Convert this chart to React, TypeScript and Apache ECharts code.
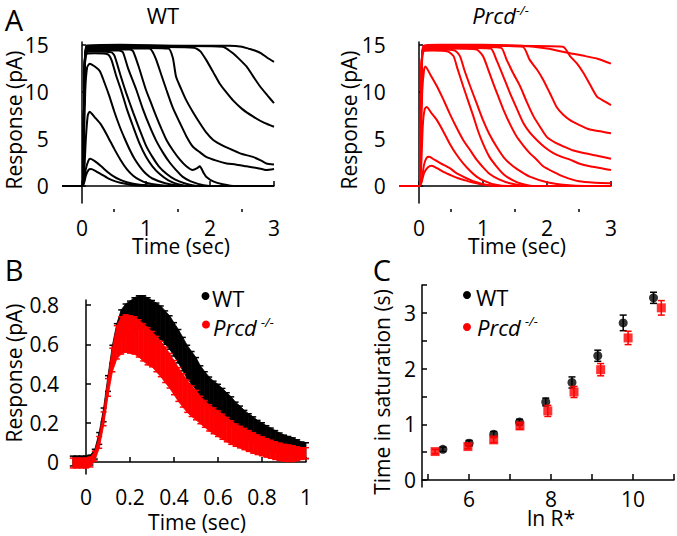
import React, { useEffect, useRef } from "react";
import * as echarts from "echarts";

const FONT = "'Open Sans', 'Noto Sans', sans-serif";
const RED = "#ff0000";
const BLACK = "#000000";

// ---------- Panel A : tick values ----------
const A_X_TICKS = [0, 1, 2, 3];
const A_X_MINOR = [0.5, 1.5, 2.5];
const A_Y_TICKS = [0, 5, 10, 15];

// ---------- Panel A : WT traces [time (s), response (pA)] ----------
const wtDim1 = [[-0.3, 0], [0, 0], [0.03, 0.3], [0.06, 1.1], [0.1, 1.7], [0.14, 1.8], [0.2, 1.65], [0.3, 1.25], [0.4, 0.85], [0.5, 0.55], [0.6, 0.35], [0.75, 0.15], [0.9, 0.05], [1.1, 0], [3, 0]];
const wtDim2 = [[-0.3, 0], [0, 0], [0.03, 0.4], [0.06, 1.8], [0.1, 2.7], [0.13, 2.9], [0.2, 2.65], [0.3, 2.1], [0.4, 1.5], [0.5, 1.0], [0.6, 0.65], [0.7, 0.4], [0.8, 0.25], [1.0, 0.08], [1.2, 0], [3, 0]];
const wtMid1 = [[-0.3, 0], [0, 0], [0.03, 1], [0.06, 5], [0.09, 7.5], [0.12, 7.9], [0.2, 7.3], [0.3, 6.5], [0.4, 5.3], [0.5, 4.0], [0.6, 2.8], [0.7, 1.8], [0.8, 1.1], [0.9, 0.65], [1.0, 0.35], [1.2, 0.1], [1.4, 0], [3, 0]];
const wtMid2 = [[-0.3, 0], [0, 0], [0.02, 2], [0.05, 10], [0.08, 12.6], [0.12, 13], [0.2, 12.7], [0.28, 12.2], [0.35, 11], [0.43, 9.5], [0.5, 8], [0.59, 6.3], [0.67, 5], [0.75, 3.8], [0.82, 2.9], [0.9, 2.1], [1.0, 1.3], [1.1, 0.8], [1.3, 0.3], [1.6, 0], [3, 0]];
const wtSat1 = [[-0.3, 0], [0, 0], [0.02, 3], [0.04, 12], [0.07, 14.0], [0.2, 14.1], [0.4, 14.0], [0.46, 13.4], [0.53, 11.8], [0.61, 10.2], [0.7, 8.2], [0.8, 6.3], [0.9, 4.5], [1.0, 3.1], [1.1, 2.1], [1.21, 1.3], [1.35, 0.6], [1.5, 0.2], [1.7, 0], [3, 0]];
const wtSat2 = [[-0.3, 0], [0, 0], [0.02, 3], [0.04, 12], [0.07, 14.2], [0.2, 14.3], [0.46, 14.2], [0.51, 13.8], [0.6, 11.8], [0.69, 9.9], [0.8, 7.8], [0.9, 6], [1.0, 4.3], [1.1, 3.1], [1.2, 2.1], [1.32, 1.3], [1.45, 0.7], [1.6, 0.3], [1.8, 0], [3, 0]];
const wtSat3 = [[-0.3, 0], [0, 0], [0.02, 3], [0.04, 12], [0.07, 14.3], [0.3, 14.4], [0.58, 14.4], [0.64, 14.2], [0.72, 12.5], [0.85, 10.2], [0.95, 8.2], [1.06, 6.3], [1.16, 4.8], [1.27, 3.5], [1.37, 2.5], [1.47, 1.7], [1.57, 1.0], [1.7, 0.5], [1.9, 0.1], [2.1, 0], [3, 0]];
const wtSat4 = [[-0.3, 0], [0, 0], [0.02, 3], [0.04, 12], [0.07, 14.4], [0.4, 14.5], [0.75, 14.5], [0.8, 14.3], [0.88, 12.8], [1.0, 10.2], [1.08, 8.8], [1.16, 7.4], [1.24, 6.1], [1.32, 4.9], [1.42, 3.8], [1.53, 2.8], [1.63, 2.1], [1.73, 1.7], [1.8, 1.9], [1.84, 2.1], [1.9, 1.4], [1.94, 1.0], [2.05, 0.5], [2.2, 0.2], [2.4, 0], [3, 0]];
const wtSat5 = [[-0.3, 0], [0, 0], [0.02, 3], [0.04, 12], [0.07, 14.5], [0.5, 14.6], [1.05, 14.6], [1.1, 14.3], [1.16, 13.4], [1.24, 11.8], [1.32, 10.2], [1.42, 8.3], [1.53, 6.7], [1.63, 5.3], [1.73, 4.2], [1.84, 3.6], [1.94, 3.1], [2.1, 2.7], [2.26, 2.4], [2.4, 2.3], [2.57, 2.1], [2.75, 1.9], [2.88, 1.7], [3, 1.8]];
const wtSat6 = [[-0.3, 0], [0, 0], [0.02, 3], [0.04, 12], [0.07, 14.6], [0.6, 14.7], [1.35, 14.6], [1.42, 13.6], [1.47, 11.6], [1.55, 10.3], [1.63, 9.1], [1.73, 7.9], [1.84, 6.7], [1.94, 5.7], [2.05, 4.9], [2.2, 4.3], [2.36, 3.8], [2.5, 3.4], [2.67, 3.1], [2.8, 2.7], [2.88, 2.4], [3, 2.3]];
const wtSat7 = [[-0.3, 0], [0, 0], [0.02, 3], [0.04, 12], [0.07, 14.7], [0.8, 14.8], [1.75, 14.7], [1.85, 14.3], [1.94, 13.4], [2.05, 12.1], [2.15, 10.9], [2.25, 10], [2.36, 9.1], [2.5, 8.2], [2.67, 7.4], [2.85, 6.7], [3, 6.3]];
const wtSat8 = [[-0.3, 0], [0, 0], [0.02, 3], [0.04, 12], [0.07, 14.8], [1.0, 14.9], [2.2, 14.8], [2.3, 14.4], [2.36, 14.1], [2.47, 13.4], [2.57, 12.7], [2.67, 11.7], [2.78, 10.6], [2.9, 9.6], [3, 8.8]];
const wtSat9 = [[-0.3, 0], [0, 0], [0.02, 3], [0.04, 12], [0.07, 14.9], [0.6, 15.0], [1.5, 14.9], [2.3, 14.9], [2.5, 14.8], [2.6, 14.6], [2.7, 14.4], [2.8, 14.1], [2.9, 13.6], [3, 13.2]];
const wtTraces = [wtDim1, wtDim2, wtMid1, wtMid2, wtSat1, wtSat2, wtSat3, wtSat4, wtSat5, wtSat6, wtSat7, wtSat8, wtSat9];

// ---------- Panel A : Prcd-/- traces ----------
const koDim1 = [[-0.3, 0], [0, 0], [0.04, 0.4], [0.08, 1.4], [0.14, 2.0], [0.2, 2.15], [0.28, 1.9], [0.38, 1.5], [0.48, 1.2], [0.6, 0.85], [0.7, 0.65], [0.8, 0.45], [0.9, 0.3], [1.06, 0.1], [1.3, 0], [3, 0]];
const koDim2 = [[-0.3, 0], [0, 0], [0.04, 0.6], [0.08, 2.3], [0.12, 3.0], [0.16, 3.1], [0.24, 2.8], [0.34, 2.4], [0.48, 1.9], [0.58, 1.4], [0.69, 1.0], [0.8, 0.65], [0.9, 0.4], [1.0, 0.2], [1.2, 0], [3, 0]];
const koMid1 = [[-0.3, 0], [0, 0], [0.03, 1.5], [0.06, 6.5], [0.09, 8.2], [0.12, 8.4], [0.2, 7.7], [0.28, 7.0], [0.38, 5.8], [0.48, 4.5], [0.58, 3.4], [0.69, 2.4], [0.8, 1.6], [0.9, 1.0], [1.0, 0.6], [1.16, 0.2], [1.4, 0], [3, 0]];
const koMid2 = [[-0.3, 0], [0, 0], [0.02, 2], [0.05, 10], [0.08, 12.4], [0.1, 12.7], [0.18, 11.8], [0.28, 10.6], [0.38, 9.2], [0.48, 7.7], [0.58, 6.3], [0.69, 4.9], [0.8, 3.8], [0.9, 2.8], [1.0, 2.0], [1.1, 1.3], [1.25, 0.7], [1.42, 0.3], [1.7, 0], [3, 0]];
const koSat1 = [[-0.3, 0], [0, 0], [0.02, 3], [0.04, 12], [0.07, 14.3], [0.2, 14.4], [0.45, 14.3], [0.54, 13.8], [0.6, 12.5], [0.69, 10.6], [0.77, 9], [0.85, 7.4], [0.92, 5.9], [1.0, 4.5], [1.1, 3.1], [1.21, 2.1], [1.33, 1.2], [1.47, 0.6], [1.6, 0.25], [1.8, 0], [3, 0]];
const koSat2 = [[-0.3, 0], [0, 0], [0.02, 3], [0.04, 12], [0.07, 14.4], [0.3, 14.5], [0.56, 14.4], [0.64, 13.8], [0.71, 12.3], [0.8, 10.6], [0.9, 8.8], [1.0, 7.0], [1.1, 5.5], [1.21, 4.2], [1.33, 3.0], [1.47, 2.1], [1.6, 1.5], [1.73, 1.0], [2.0, 0.4], [2.3, 0.1], [2.6, 0], [3, 0]];
const koSat3 = [[-0.3, 0], [0, 0], [0.02, 3], [0.04, 12], [0.07, 14.5], [0.5, 14.6], [0.9, 14.5], [1.0, 13.8], [1.08, 12.4], [1.16, 10.9], [1.24, 9.5], [1.32, 8.1], [1.42, 6.6], [1.53, 5.2], [1.63, 4.3], [1.73, 3.5], [1.84, 2.8], [1.94, 2.1], [2.1, 1.5], [2.26, 1.0], [2.5, 0.5], [2.75, 0.35], [3, 0.3]];
const koSat4 = [[-0.3, 0], [0, 0], [0.02, 3], [0.04, 12], [0.07, 14.6], [0.6, 14.7], [1.12, 14.6], [1.21, 13.4], [1.32, 11.6], [1.42, 9.9], [1.53, 8.2], [1.63, 6.7], [1.73, 5.7], [1.84, 4.9], [1.97, 4.1], [2.1, 3.5], [2.23, 3.1], [2.36, 2.8], [2.5, 2.4], [2.67, 2.1], [2.85, 1.9], [3, 1.7]];
const koSat5 = [[-0.3, 0], [0, 0], [0.02, 3], [0.04, 12], [0.07, 14.7], [0.7, 14.8], [1.28, 14.7], [1.37, 13.4], [1.47, 12.0], [1.58, 10.6], [1.68, 9.0], [1.79, 7.4], [1.9, 6.2], [2.0, 5.2], [2.13, 4.6], [2.26, 4.2], [2.4, 3.8], [2.57, 3.5], [2.8, 3.2], [3, 2.9]];
const koSat6 = [[-0.3, 0], [0, 0], [0.02, 3], [0.04, 12], [0.07, 14.8], [0.9, 14.9], [1.62, 14.8], [1.73, 13.4], [1.84, 12.4], [1.94, 11.3], [2.05, 9.8], [2.15, 8.4], [2.25, 7.6], [2.36, 7.0], [2.5, 6.5], [2.67, 6.0], [2.85, 5.8], [3, 5.6]];
const koSat7 = [[-0.3, 0], [0, 0], [0.02, 3], [0.04, 12], [0.07, 14.8], [1.2, 14.9], [2.25, 14.8], [2.36, 13.8], [2.47, 13.0], [2.57, 12.0], [2.67, 10.8], [2.78, 9.5], [2.9, 9.0], [3, 8.6]];
const koSat8 = [[-0.3, 0], [0, 0], [0.02, 3], [0.04, 12], [0.07, 14.9], [0.3, 15.0], [1.0, 15.0], [1.6, 14.9], [2.0, 14.6], [2.36, 14.1], [2.6, 13.8], [2.8, 13.5], [3, 13.0]];
const koTraces = [koDim1, koDim2, koMid1, koMid2, koSat1, koSat2, koSat3, koSat4, koSat5, koSat6, koSat7, koSat8];

// ---------- Panel B : mean +/- SEM ----------
const B_X_TICKS = [0, 0.2, 0.4, 0.6, 0.8, 1];
const B_Y_TICKS = [0, 0.2, 0.4, 0.6, 0.8];
const bTime = [-0.06, -0.04, -0.02, 0, 0.02, 0.04, 0.06, 0.08, 0.1, 0.12, 0.14, 0.16, 0.18, 0.2, 0.22, 0.24, 0.26, 0.28, 0.3, 0.32, 0.34, 0.36, 0.38, 0.4, 0.42, 0.44, 0.46, 0.48, 0.5, 0.52, 0.54, 0.56, 0.58, 0.6, 0.62, 0.64, 0.66, 0.68, 0.7, 0.72, 0.74, 0.76, 0.78, 0.8, 0.82, 0.84, 0.86, 0.88, 0.9, 0.92, 0.94, 0.96, 0.98, 1.0];
const bWtMean = [0.005, 0.005, 0.005, 0.005, 0.01, 0.04, 0.12, 0.24, 0.4, 0.55, 0.645, 0.7, 0.725, 0.74, 0.755, 0.765, 0.765, 0.755, 0.74, 0.725, 0.71, 0.685, 0.66, 0.625, 0.59, 0.55, 0.51, 0.48, 0.45, 0.41, 0.38, 0.355, 0.335, 0.32, 0.3, 0.28, 0.26, 0.235, 0.215, 0.195, 0.18, 0.165, 0.15, 0.14, 0.125, 0.115, 0.105, 0.095, 0.087, 0.08, 0.078, 0.07, 0.062, 0.058];
const bWtSem = [0.025, 0.025, 0.025, 0.025, 0.025, 0.025, 0.03, 0.035, 0.04, 0.045, 0.06, 0.075, 0.08, 0.08, 0.082, 0.082, 0.082, 0.082, 0.083, 0.085, 0.085, 0.085, 0.085, 0.085, 0.085, 0.085, 0.085, 0.083, 0.082, 0.08, 0.08, 0.078, 0.077, 0.076, 0.075, 0.073, 0.072, 0.07, 0.07, 0.068, 0.066, 0.065, 0.062, 0.06, 0.06, 0.058, 0.055, 0.053, 0.05, 0.05, 0.045, 0.043, 0.04, 0.04];
const bKoMean = [-0.005, -0.005, -0.005, -0.005, 0, 0.03, 0.1, 0.22, 0.38, 0.52, 0.61, 0.645, 0.655, 0.65, 0.645, 0.63, 0.61, 0.59, 0.575, 0.55, 0.525, 0.495, 0.465, 0.43, 0.395, 0.365, 0.335, 0.31, 0.29, 0.265, 0.245, 0.225, 0.21, 0.195, 0.18, 0.165, 0.15, 0.137, 0.127, 0.117, 0.107, 0.097, 0.088, 0.08, 0.072, 0.065, 0.058, 0.052, 0.047, 0.045, 0.043, 0.042, 0.043, 0.045];
const bKoSem = [0.025, 0.025, 0.025, 0.025, 0.025, 0.025, 0.03, 0.035, 0.045, 0.06, 0.085, 0.095, 0.095, 0.095, 0.095, 0.095, 0.095, 0.095, 0.09, 0.09, 0.09, 0.09, 0.088, 0.087, 0.086, 0.085, 0.082, 0.078, 0.075, 0.07, 0.068, 0.067, 0.066, 0.065, 0.064, 0.062, 0.06, 0.057, 0.055, 0.054, 0.053, 0.052, 0.05, 0.048, 0.047, 0.046, 0.045, 0.044, 0.043, 0.042, 0.04, 0.035, 0.03, 0.028];

// ---------- Panel C : time in saturation vs ln R* ----------
const C_X_TICKS = [5, 6, 7, 8, 9, 10, 11];
const C_X_LABELS = [6, 8, 10];
const C_Y_TICKS = [0, 0.5, 1, 1.5, 2, 2.5, 3, 3.5];
const C_Y_LABELS = [0, 1, 2, 3];
const cWtX = [5.36, 6.0, 6.6, 7.23, 7.87, 8.51, 9.14, 9.76, 10.5];
const cWtY = [0.55, 0.66, 0.82, 1.04, 1.4, 1.75, 2.23, 2.82, 3.27];
const cWtErr = [0.04, 0.05, 0.05, 0.05, 0.07, 0.1, 0.1, 0.14, 0.1];
const cKoX = [5.17, 5.97, 6.6, 7.24, 7.92, 8.56, 9.21, 9.88, 10.69];
const cKoY = [0.51, 0.6, 0.72, 0.97, 1.24, 1.58, 1.98, 2.55, 3.09];
const cKoErr = [0.04, 0.04, 0.05, 0.06, 0.1, 0.1, 0.11, 0.12, 0.13];

const FS = 21;
const axisLineStyle = { show: true, lineStyle: { color: BLACK, width: 1.5 } };
const labelBase = { color: BLACK, fontSize: FS, fontFamily: FONT };

function xAxisDef(grid: number, min: number, max: number, ticks: number[], labels: number[] | null, offset: number, tickLen: number, margin: number, showLine = true) {
  return {
    type: "value", gridIndex: grid, min, max, position: "bottom", offset,
    axisLine: showLine ? axisLineStyle : { show: false },
    axisTick: { show: true, inside: true, length: tickLen, customValues: ticks, lineStyle: { color: BLACK, width: 1.5 } },
    axisLabel: labels ? { ...labelBase, show: true, margin, customValues: labels } : { show: false },
    splitLine: { show: false },
  };
}
function yAxisDef(grid: number, min: number, max: number, ticks: number[], labels: number[], offset: number, tickLen: number, margin: number) {
  return {
    type: "value", gridIndex: grid, min, max, position: "left", offset,
    axisLine: axisLineStyle,
    axisTick: { show: true, inside: true, length: tickLen, customValues: ticks, lineStyle: { color: BLACK, width: 1.5 } },
    axisLabel: { ...labelBase, show: true, margin, customValues: labels },
    splitLine: { show: false },
  };
}

function txt(text: string, x: number, y: number, size: number, opts: any = {}) {
  return {
    type: "text", x, y, rotation: opts.rotation || 0, silent: true, z: 100,
    style: {
      text, fontSize: size, fontFamily: FONT, fill: opts.fill || BLACK,
      fontStyle: opts.italic ? "italic" : "normal",
      align: opts.align || "center", verticalAlign: "middle",
      textAlign: opts.align || "center", textVerticalAlign: "middle",
    },
  };
}

function bandSeries(mean: number[], sem: number[], color: string, z: number) {
  return {
    type: "custom", xAxisIndex: 4, yAxisIndex: 2, z, silent: true, clip: false,
    data: bTime.map((t, i) => [t, mean[i] - sem[i], mean[i] + sem[i]]),
    renderItem: (params: any, api: any) => {
      const i = params.dataIndex;
      const t0 = bTime[i];
      const lo = api.coord([t0, mean[i] - sem[i]]);
      const hi = api.coord([t0, mean[i] + sem[i]]);
      const children: any[] = [];
      if (i < bTime.length - 1) {
        const t1 = bTime[i + 1];
        const lo1 = api.coord([t1, mean[i + 1] - sem[i + 1]]);
        const hi1 = api.coord([t1, mean[i + 1] + sem[i + 1]]);
        children.push({ type: "polygon", shape: { points: [lo, hi, hi1, lo1] }, style: { fill: color, stroke: color, lineWidth: 0.8 } });
      }
      children.push({ type: "line", shape: { x1: hi[0] - 3, y1: hi[1], x2: hi[0] + 3, y2: hi[1] }, style: { stroke: color, lineWidth: 1.5 } });
      children.push({ type: "line", shape: { x1: lo[0] - 3, y1: lo[1], x2: lo[0] + 3, y2: lo[1] }, style: { stroke: color, lineWidth: 1.5 } });
      return { type: "group", children };
    },
  };
}

function errSeries(xs: number[], ys: number[], errs: number[], color: string, z: number) {
  return {
    type: "custom", xAxisIndex: 5, yAxisIndex: 3, z, silent: true,
    data: xs.map((x, i) => [x, ys[i] - errs[i], ys[i] + errs[i]]),
    renderItem: (params: any, api: any) => {
      const lo = api.coord([api.value(0), api.value(1)]);
      const hi = api.coord([api.value(0), api.value(2)]);
      return {
        type: "group",
        children: [
          { type: "line", shape: { x1: lo[0], y1: lo[1], x2: hi[0], y2: hi[1] }, style: { stroke: color, lineWidth: 1.5 } },
          { type: "line", shape: { x1: lo[0] - 3.5, y1: lo[1], x2: lo[0] + 3.5, y2: lo[1] }, style: { stroke: color, lineWidth: 1.5 } },
          { type: "line", shape: { x1: hi[0] - 3.5, y1: hi[1], x2: hi[0] + 3.5, y2: hi[1] }, style: { stroke: color, lineWidth: 1.5 } },
        ],
      };
    },
  };
}

export default function App() {
  const ref = useRef<HTMLDivElement>(null);
  useEffect(() => {
    if (!ref.current) return;
    const chart = echarts.init(ref.current, null, { renderer: "svg" });

    const traceSeries: any[] = [];
    wtTraces.forEach((d) => traceSeries.push({
      type: "line", xAxisIndex: 0, yAxisIndex: 0, data: d, showSymbol: false, symbol: "none",
      smooth: 0.2, silent: true, lineStyle: { color: BLACK, width: 2 }, z: 3,
    }));
    koTraces.forEach((d) => traceSeries.push({
      type: "line", xAxisIndex: 2, yAxisIndex: 1, data: d, showSymbol: false, symbol: "none",
      smooth: 0.2, silent: true, lineStyle: { color: RED, width: 2 }, z: 3,
    }));

    const option: any = {
      animation: false,
      backgroundColor: "#ffffff",
      grid: [
        { left: 62.8, top: 42, width: 211.2, height: 161, outerBoundsMode: "none" },
        { left: 399.8, top: 42, width: 211.2, height: 161, outerBoundsMode: "none" },
        { left: 75, top: 300, width: 231, height: 174, outerBoundsMode: "none" },
        { left: 422, top: 285, width: 252, height: 202, outerBoundsMode: "none" },
      ],
      xAxis: [
        xAxisDef(0, -0.3, 3, A_X_TICKS, A_X_TICKS, 9, 5, 5),
        xAxisDef(0, -0.3, 3, A_X_MINOR, null, 9, 3, 5, false),
        xAxisDef(1, -0.3, 3, A_X_TICKS, A_X_TICKS, 9, 5, 5),
        xAxisDef(1, -0.3, 3, A_X_MINOR, null, 9, 3, 5, false),
        xAxisDef(2, -0.05, 1, B_X_TICKS, B_X_TICKS, 8, 5, 4),
        xAxisDef(3, 4.85, 11, C_X_TICKS, C_X_LABELS, 0, 6, 1),
      ],
      yAxis: [
        yAxisDef(0, -1.8, 15.3, A_Y_TICKS, A_Y_TICKS, 10, 4, 4),
        yAxisDef(1, -1.8, 15.3, A_Y_TICKS, A_Y_TICKS, 10, 4, 4),
        yAxisDef(2, -0.0611, 0.8255, B_Y_TICKS, B_Y_TICKS, 12, 5, 4),
        yAxisDef(3, -0.126, 3.5, C_Y_TICKS, C_Y_LABELS, 0, 5, 6),
      ],
      series: [
        ...traceSeries,
        bandSeries(bWtMean, bWtSem, BLACK, 4),
        bandSeries(bKoMean, bKoSem, RED, 5),
        errSeries(cWtX, cWtY, cWtErr, BLACK, 4),
        { type: "scatter", xAxisIndex: 5, yAxisIndex: 3, data: cWtX.map((x, i) => [x, cWtY[i]]), symbol: "circle", symbolSize: 9, itemStyle: { color: BLACK }, z: 5, silent: true },
        errSeries(cKoX, cKoY, cKoErr, RED, 6),
        { type: "scatter", xAxisIndex: 5, yAxisIndex: 3, data: cKoX.map((x, i) => [x, cKoY[i]]), symbol: "rect", symbolSize: 9, itemStyle: { color: RED }, z: 7, silent: true },
      ],
      graphic: [
        txt("A", 14, 19, 29),
        txt("B", 14, 269, 29),
        txt("C", 382, 269, 29),
        txt("WT", 163, 15, 22),
        txt("Prcd", 516, 15, 22, { italic: true, align: "right" }),
        txt("-/-", 516, 10, 13, { italic: true, align: "left" }),
        txt("Response (pA)", 14, 120, FS, { rotation: Math.PI / 2 }),
        txt("Response (pA)", 349, 120, FS, { rotation: Math.PI / 2 }),
        txt("Response (pA)", 14, 373, FS, { rotation: Math.PI / 2 }),
        txt("Time in saturation (s)", 382, 392, FS, { rotation: Math.PI / 2 }),
        txt("Time (sec)", 181, 246, FS),
        txt("Time (sec)", 517, 246, FS),
        txt("Time (sec)", 197, 522, FS),
        txt("ln R*", 551, 518, FS),
        // legend B
        { type: "circle", shape: { cx: 205.5, cy: 296, r: 4 }, style: { fill: BLACK }, z: 100 },
        txt("WT", 212, 298, 22, { align: "left" }),
        { type: "circle", shape: { cx: 206, cy: 324.5, r: 4 }, style: { fill: RED }, z: 100 },
        txt("Prcd", 213, 327, 22, { italic: true, align: "left" }),
        txt("-/-", 261, 322, 13, { italic: true, align: "left" }),
        // legend C
        { type: "circle", shape: { cx: 467, cy: 295, r: 4 }, style: { fill: BLACK }, z: 100 },
        txt("WT", 476, 297, 22, { align: "left" }),
        { type: "circle", shape: { cx: 467, cy: 327, r: 4 }, style: { fill: RED }, z: 100 },
        txt("Prcd", 477, 326.5, 22, { italic: true, align: "left" }),
        txt("-/-", 525, 321, 13, { italic: true, align: "left" }),
      ],
    };
    chart.setOption(option);
    return () => chart.dispose();
  }, []);
  return <div ref={ref} style={{ position: "fixed", left: 0, top: 0, width: 677, height: 536, background: "#fff" }} />;
}
